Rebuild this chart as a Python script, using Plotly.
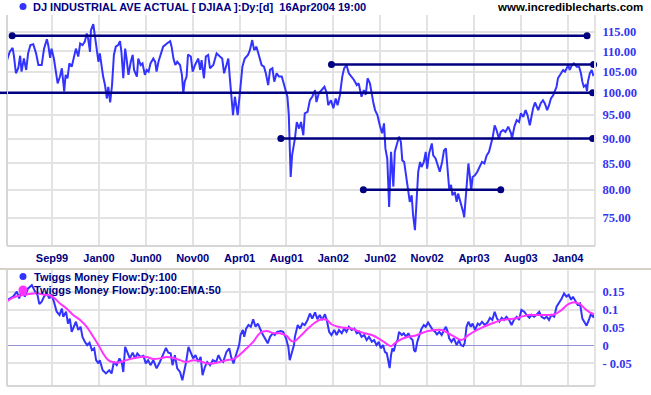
import math
import plotly.graph_objects as go

# ---------------- data ----------------
tick_days = [100, 200, 300, 400, 500, 600, 700, 800, 900, 1000, 1100, 1200]
tick_labels = ["Sep99", "Jan00", "Jun00", "Nov00", "Apr01", "Aug01",
               "Jan02", "Jun02", "Nov02", "Apr03", "Aug03", "Jan04"]
price_ticks = [75, 80, 85, 90, 95, 100, 105, 110, 115]
price_tick_labels = ["75.00", "80.00", "85.00", "90.00", "95.00",
                     "100.00", "105.00", "110.00", "115.00"]
tmf_ticks = [-0.05, 0, 0.05, 0.1, 0.15]
tmf_tick_labels = ["- 0.05", "0", "0.05", "0.1", "0.15"]

# trading-day index
price_day = [
    3, 5, 10, 16, 19, 23, 28, 32, 35, 40, 45, 49, 54, 60, 66, 71, 78, 83, 89, 92,
    96, 99, 104, 108, 112, 117, 121, 126, 129, 133, 137, 142, 147, 151, 156, 160, 165, 170, 174, 177,
    181, 183, 188, 192, 195, 199, 202, 206, 209, 213, 217, 220, 224, 228, 232, 236, 241, 245, 248, 252,
    256, 259, 263, 268, 272, 275, 281, 284, 289, 293, 298, 302, 306, 310, 316, 320, 323, 327, 332, 337,
    345, 352, 355, 359, 363, 367, 373, 377, 380, 383, 387, 390, 396, 400, 405,
    412, 416, 419, 424, 428, 433, 437, 444, 451, 458, 463, 467, 472, 476, 479, 483, 486, 490, 496, 501,
    506, 511, 518, 522, 527, 531, 536, 541, 547, 552, 556, 561, 565, 570, 574, 579, 584, 590, 593, 597,
    602, 605, 607, 609, 612, 615, 618, 622, 627, 631, 636, 639, 645, 650, 655, 661, 664, 669, 675, 681,
    686, 689, 695, 700, 705, 709, 714, 719, 723, 728, 733, 739, 744, 750, 754, 760, 765, 769, 773, 778,
    782, 785, 789, 794, 799, 804, 808, 811, 815, 817, 819, 823, 825, 828, 831,
    835, 840, 844, 847, 851, 856, 860, 863, 867, 870, 874, 876, 878, 881, 885, 888, 893, 897, 900, 904,
    910, 913, 918, 922, 927, 932, 936, 940, 944, 947, 951, 954, 959, 963, 966, 970, 973, 977, 979, 982,
    984, 988, 991, 994, 997, 1002, 1007, 1012, 1017, 1022, 1027, 1032, 1036, 1040, 1044, 1048, 1053, 1057, 1062, 1067,
    1073, 1079, 1081, 1086, 1091, 1096, 1100, 1105, 1110, 1114, 1119, 1123, 1126, 1130, 1133, 1137, 1142, 1147, 1151, 1156,
    1160, 1164, 1169, 1172, 1176, 1179, 1183, 1187, 1190, 1194, 1197, 1201, 1204, 1209, 1213, 1219, 1224, 1228, 1231, 1234,
    1238, 1241, 1243, 1247, 1251, 1254, 1256,
]
price_close = [
    107.0, 108.2, 109.9, 110.9, 108.7, 104.6, 105.8, 108.9, 105.0, 108.2, 105.4, 109.5, 111.6, 111.8, 109.5, 106.6, 106.6, 110.7, 113.1, 111.6,
    108.4, 110.7, 108.2, 105.4, 102.2, 103.8, 105.8, 100.3, 104.2, 103.4, 107.0, 106.2, 109.1, 110.7, 108.7, 112.0, 111.6, 112.5, 114.6, 113.3,
    109.9, 115.5, 117.1, 113.3, 109.9, 107.4, 109.5, 105.8, 103.8, 101.8, 98.7, 101.4, 97.8, 101.8, 109.1, 111.2, 111.6, 112.6, 109.9, 103.4,
    110.7, 108.2, 104.2, 107.4, 109.1, 105.4, 103.8, 108.2, 106.6, 107.0, 104.2, 105.4, 105.0, 107.0, 108.2, 107.4, 105.0, 107.4, 109.5, 111.2,
    112.0, 112.6, 111.2, 108.2, 106.6, 107.4, 106.6, 104.2, 99.9, 102.6, 103.8, 109.2, 108.7, 105.0, 106.6,
    108.2, 105.4, 107.8, 103.4, 108.7, 109.1, 105.8, 106.6, 109.5, 108.7, 108.2, 104.6, 106.6, 108.2, 103.8, 99.1, 95.0, 99.1, 95.0, 100.3,
    106.2, 108.2, 109.1, 110.3, 112.9, 110.3, 111.2, 109.1, 106.6, 106.2, 104.6, 101.8, 105.4, 105.8, 102.6, 104.6, 103.8, 103.8, 102.6, 101.4,
    99.1, 95.0, 89.3, 82.4, 86.6, 88.0, 90.0, 93.5, 92.1, 93.5, 90.7, 95.4, 95.7, 98.3, 99.1, 100.6, 97.9, 99.9, 100.6, 101.4,
    99.9, 97.2, 98.3, 96.5, 98.7, 97.2, 99.5, 103.8, 105.8, 106.6, 104.6, 103.8, 103.0, 101.8, 102.2, 99.1, 100.6, 99.5, 103.4, 102.2,
    99.5, 97.9, 96.1, 95.0, 92.8, 91.1, 93.2, 88.0, 85.9, 79.9, 76.9, 87.3, 83.4, 80.6, 87.3,
    88.7, 90.4, 89.3, 85.6, 85.3, 82.1, 79.6, 77.8, 79.0, 75.5, 72.9, 76.0, 78.4, 83.4, 85.3, 84.3, 85.3, 87.3, 84.0, 86.9,
    89.0, 86.6, 86.0, 85.0, 83.4, 85.3, 87.6, 88.0, 83.4, 80.2, 80.9, 79.0, 79.6, 77.8, 79.3, 78.1, 77.5, 76.0, 75.1, 78.4,
    82.1, 85.0, 82.7, 79.9, 82.4, 82.7, 83.4, 84.3, 85.3, 85.0, 86.6, 87.3, 88.7, 90.4, 92.8, 91.8, 90.0, 91.4, 91.8, 91.4,
    92.5, 91.1, 90.0, 92.5, 93.9, 93.5, 95.4, 94.6, 96.1, 95.0, 92.8, 95.4, 96.5, 97.8, 97.2, 96.1, 97.6, 98.3, 97.6, 96.1,
    97.2, 98.7, 99.5, 100.3, 101.4, 103.4, 104.2, 105.0, 105.4, 105.0, 105.8, 106.6, 105.4, 106.6, 107.0, 106.2, 106.2, 104.6, 102.6, 101.4,
    101.8, 100.4, 102.6, 104.6, 105.4, 104.2, 104.4,
]

tmf_points = [
    (5, 0.127), (17, 0.136), (25, 0.150), (30, 0.131), (35, 0.154), (42, 0.136), (49, 0.159), (57, 0.168),
    (64, 0.150), (69, 0.141), (73, 0.115), (78, 0.122), (83, 0.136), (89, 0.145), (94, 0.131), (99, 0.142),
    (104, 0.122), (110, 0.094), (116, 0.085), (121, 0.103), (124, 0.080), (130, 0.094), (134, 0.061), (138, 0.075),
    (142, 0.038), (147, 0.057), (151, 0.066), (156, 0.043), (161, 0.052), (165, 0.024), (170, 0.010), (175, 0.001),
    (180, 0.008), (185, -0.013), (190, -0.008), (194, -0.041), (199, -0.050), (202, -0.041), (208, -0.069), (215, -0.078),
    (222, -0.069), (227, -0.078), (232, -0.046), (238, -0.055), (244, -0.036), (249, -0.050), (252, -0.074), (256, -0.004),
    (261, -0.022), (266, -0.036), (272, -0.020), (277, -0.036), (282, -0.022), (288, -0.032), (295, -0.029), (300, -0.050),
    (305, -0.041), (310, -0.055), (316, -0.041), (323, -0.064), (330, -0.046), (337, -0.027), (343, -0.007), (348, -0.020),
    (353, -0.022), (357, -0.055), (362, -0.027), (367, -0.064), (373, -0.074), (378, -0.097), (382, -0.074), (386, -0.046),
    (391, -0.004), (396, -0.018), (401, -0.036), (406, -0.027), (412, -0.046), (417, -0.032), (421, -0.083), (426, -0.060),
    (431, -0.046), (437, -0.055), (443, -0.041), (450, -0.046), (455, -0.027), (460, -0.041), (465, -0.046), (472, -0.018),
    (478, -0.008), (482, -0.032), (487, -0.050), (491, -0.032), (495, -0.013), (499, 0.001), (502, 0.029), (507, 0.043),
    (510, 0.024), (514, 0.047), (519, 0.057), (524, 0.052), (529, 0.073), (534, 0.052), (539, 0.061), (544, 0.043),
    (548, 0.034), (554, 0.020), (560, 0.006), (565, 0.024), (571, 0.034), (575, 0.029), (580, 0.038), (588, 0.040),
    (593, 0.038), (599, 0.020), (604, -0.004), (607, -0.041), (611, -0.022), (616, 0.001),
    (618, 0.024), (624, 0.057), (629, 0.047), (634, 0.061), (639, 0.057), (645, 0.071), (650, 0.089), (655, 0.075),
    (661, 0.092), (666, 0.073), (671, 0.085), (676, 0.071), (682, 0.087), (686, 0.071), (691, 0.038), (696, 0.029),
    (702, 0.043), (707, 0.029), (712, 0.043), (718, 0.034), (723, 0.047), (728, 0.038), (733, 0.052), (739, 0.043),
    (745, 0.047), (750, 0.034), (755, 0.038), (760, 0.024), (766, 0.029), (771, 0.015), (776, 0.024), (782, 0.010),
    (787, 0.015), (792, 0.001), (797, 0.010), (801, -0.008), (806, 0.001), (810, -0.018), (814, -0.022), (817, -0.046),
    (820, -0.063), (823, -0.027), (826, -0.008), (829, -0.016), (833, 0.006), (837, 0.015), (840, 0.038), (846, 0.029),
    (850, 0.034), (855, 0.024), (860, 0.034), (865, 0.020), (869, 0.015), (872, -0.013), (875, -0.018), (879, 0.010),
    (883, 0.024), (888, 0.047), (893, 0.057), (897, 0.052), (902, 0.064), (907, 0.052), (912, 0.043), (917, 0.038),
    (921, 0.031), (926, 0.038), (931, 0.029), (936, 0.043), (940, 0.052), (944, 0.038), (947, 0.020), (952, 0.010),
    (957, 0.020), (963, 0.001), (968, 0.015), (972, 0.001), (977, -0.002), (980, 0.006), (984, 0.052), (988, 0.066),
    (993, 0.052), (997, 0.061), (1002, 0.043), (1008, 0.061), (1012, 0.057), (1017, 0.066), (1023, 0.057), (1029, 0.064),
    (1034, 0.077), (1039, 0.071), (1044, 0.094), (1049, 0.075), (1054, 0.066), (1059, 0.077), (1064, 0.071), (1069, 0.080),
    (1075, 0.071), (1080, 0.057), (1085, 0.071), (1091, 0.080), (1096, 0.071), (1101, 0.099), (1107, 0.094), (1112, 0.085),
    (1118, 0.077), (1123, 0.085), (1128, 0.080), (1133, 0.085), (1139, 0.094), (1144, 0.080), (1150, 0.075), (1155, 0.080),
    (1160, 0.071), (1165, 0.085), (1171, 0.080), (1176, 0.108), (1181, 0.117), (1187, 0.131), (1192, 0.145), (1197, 0.136),
    (1202, 0.141), (1207, 0.127), (1211, 0.136), (1217, 0.120), (1221, 0.113), (1226, 0.117), (1231, 0.075), (1235, 0.066),
    (1240, 0.055), (1245, 0.071), (1249, 0.087), (1254, 0.080), (1256, 0.085),
]

ema_points = [
    (3, 0.122), (17, 0.133), (32, 0.139), (46, 0.142), (60, 0.145), (71, 0.145), (81, 0.142), (96, 0.139),
    (106, 0.131), (117, 0.117), (131, 0.103), (145, 0.085), (160, 0.071), (174, 0.052), (188, 0.024), (199, 0.001),
    (209, -0.022), (220, -0.041), (231, -0.047), (245, -0.047), (259, -0.041), (273, -0.036), (288, -0.032), (302, -0.032),
    (316, -0.038), (330, -0.036), (345, -0.032), (359, -0.035), (373, -0.041), (387, -0.046), (401, -0.041), (416, -0.044),
    (430, -0.050), (444, -0.050), (458, -0.046), (472, -0.041), (487, -0.038), (501, -0.025), (515, -0.008), (529, 0.010),
    (543, 0.034), (558, 0.040), (572, 0.034), (586, 0.034), (600, 0.027), (611, 0.012), (618, 0.012), (632, 0.029),
    (646, 0.047), (661, 0.064), (675, 0.073), (686, 0.071), (696, 0.059), (710, 0.052), (725, 0.049), (739, 0.047),
    (753, 0.040), (767, 0.034), (782, 0.029), (796, 0.020), (810, 0.008), (823, -0.002), (831, 0.006), (846, 0.018),
    (860, 0.024), (874, 0.027), (888, 0.034), (902, 0.040), (917, 0.043), (931, 0.043), (945, 0.034), (959, 0.024),
    (973, 0.015), (988, 0.029), (1002, 0.040), (1016, 0.049), (1030, 0.057), (1044, 0.064), (1059, 0.071), (1073, 0.073),
    (1087, 0.075), (1101, 0.080), (1116, 0.085), (1130, 0.085), (1144, 0.085), (1158, 0.085), (1172, 0.087), (1187, 0.099),
    (1201, 0.115), (1215, 0.120), (1226, 0.115), (1236, 0.103), (1247, 0.092), (1256, 0.087),
]

trend_levels = [114.0, 106.7, 100.0, 90.0, 80.0]
trend_start = [15, 696, -11, 588, 764]
trend_end = [1241, 1255, 1253, 1253, 1057]
trend_start_dot = [True, True, False, True, True]

title_text = "DJ INDUSTRIAL AVE ACTUAL [ DJIAA ]:Dy:[d]\u00a0\u00a016Apr2004 19:00"
site_text = "www.incrediblecharts.com"
legend_tmf = "Twiggs Money Flow:Dy:100"
legend_ema = "Twiggs Money Flow:Dy:100:EMA:50"

# ---------------- layout constants (pixels) ----------------
W, H = 651, 395
PL, PR = 7, 595
UP_T, UP_B = 15, 246
LO_T, LO_B = 269, 386
X_RANGE = [4, 1258]
P_RANGE = [math.log10(70.3), math.log10(119.6)]
T_RANGE = [-0.113, 0.213]

NAVY = "#000080"
BLUE = "#3333ff"
MAGENTA = "#ff33ff"
GRID = "#e3e3e3"
TICKBLUE = "#3535f0"


def fx(p):
    return p / W


def fy(p):
    return 1 - p / H


fig = go.Figure()

fig.add_trace(go.Scatter(x=price_day, y=price_close, mode="lines",
                         line=dict(color=BLUE, width=2), xaxis="x", yaxis="y",
                         hoverinfo="skip"))

for lvl, s, e, sd in zip(trend_levels, trend_start, trend_end, trend_start_dot):
    fig.add_trace(go.Scatter(x=[s, e], y=[lvl, lvl], mode="lines",
                             line=dict(color=NAVY, width=2.5), xaxis="x", yaxis="y",
                             hoverinfo="skip"))
    dots_x = [s, e] if sd else [e]
    fig.add_trace(go.Scatter(x=dots_x, y=[lvl] * len(dots_x), mode="markers",
                             marker=dict(color=NAVY, size=7), xaxis="x", yaxis="y",
                             cliponaxis=False, hoverinfo="skip"))

fig.add_trace(go.Scatter(x=[p[0] for p in tmf_points], y=[p[1] for p in tmf_points],
                         mode="lines", line=dict(color=BLUE, width=2),
                         xaxis="x2", yaxis="y2", hoverinfo="skip"))
fig.add_trace(go.Scatter(x=[p[0] for p in ema_points], y=[p[1] for p in ema_points],
                         mode="lines", line=dict(color=MAGENTA, width=2, shape="spline"),
                         xaxis="x2", yaxis="y2", hoverinfo="skip"))

sans = "Liberation Sans, Arial, sans-serif"
serif = "Liberation Serif"

fig.update_layout(
    width=W, height=H, autosize=False,
    margin=dict(l=0, r=0, t=0, b=0),
    paper_bgcolor="white", plot_bgcolor="white",
    showlegend=False,
    xaxis=dict(domain=[fx(PL), fx(PR)], range=X_RANGE, anchor="y",
               tickmode="array", tickvals=tick_days, ticktext=tick_labels,
               tickfont=dict(family=sans, size=11, color=NAVY, weight="bold"),
               showgrid=True, gridcolor=GRID, gridwidth=2, zeroline=False,
               showline=False, ticks="outside", ticklen=2, tickcolor="rgba(0,0,0,0)"),
    yaxis=dict(domain=[fy(UP_B), fy(UP_T)], type="log", range=P_RANGE, anchor="x",
               side="right", tickmode="array", tickvals=price_ticks, ticktext=price_tick_labels,
               tickfont=dict(family=serif, size=12.5, color=TICKBLUE, weight="bold"),
               showgrid=True, gridcolor=GRID, gridwidth=2, zeroline=False,
               showline=False, ticks="outside", ticklen=4, tickcolor="rgba(0,0,0,0)"),
    xaxis2=dict(domain=[fx(PL), fx(PR)], range=X_RANGE, anchor="y2",
                tickmode="array", tickvals=tick_days, showticklabels=False,
                showgrid=True, gridcolor=GRID, gridwidth=2, zeroline=False, showline=False),
    yaxis2=dict(domain=[fy(LO_B), fy(LO_T)], range=T_RANGE, anchor="x2",
                side="right", tickmode="array", tickvals=tmf_ticks, ticktext=tmf_tick_labels,
                tickfont=dict(family=serif, size=12.5, color=TICKBLUE, weight="bold"),
                showgrid=True, gridcolor=GRID, gridwidth=2,
                zeroline=True, zerolinecolor="#9494d4", zerolinewidth=1,
                showline=False, ticks="outside", ticklen=4, tickcolor="rgba(0,0,0,0)"),
)

shapes = []
frame = "#d6d6d6"
for top, bot in [(UP_T, UP_B), (LO_T, LO_B)]:
    shapes.append(dict(type="line", xref="paper", yref="paper", x0=fx(PL), x1=fx(PL),
                       y0=fy(top), y1=fy(bot), line=dict(color=frame, width=2)))
    shapes.append(dict(type="line", xref="paper", yref="paper", x0=fx(PR), x1=fx(PR),
                       y0=fy(top), y1=fy(bot), line=dict(color=GRID, width=2)))
    shapes.append(dict(type="line", xref="paper", yref="paper", x0=fx(PL), x1=fx(PR),
                       y0=fy(bot), y1=fy(bot), line=dict(color=frame, width=2)))
# separator between panels
shapes.append(dict(type="line", xref="paper", yref="paper", x0=0, x1=1,
                   y0=fy(LO_T), y1=fy(LO_T), line=dict(color="#d4d0c8", width=2)))
# stub of the 100 line left of the plot area
frac100 = (math.log10(trend_levels[2]) - P_RANGE[0]) / (P_RANGE[1] - P_RANGE[0])
shapes.append(dict(type="line", xref="paper", yref="y domain", x0=0, x1=fx(PL),
                   y0=frac100, y1=frac100, line=dict(color=NAVY, width=2.5)))


def dot(cx, cy, r, color):
    return dict(type="circle", xref="paper", yref="paper",
                x0=fx(cx - r), x1=fx(cx + r), y0=fy(cy + r), y1=fy(cy - r),
                fillcolor=color, line=dict(width=0))


shapes.append(dot(23, 6.5, 3.5, BLUE))
shapes.append(dot(23, 276.5, 3.5, BLUE))
shapes.append(dot(23, 290, 4.5, MAGENTA))
fig.update_layout(shapes=shapes)

ann = [
    dict(text=title_text, x=fx(31), y=fy(7), xanchor="left", yanchor="middle",
         font=dict(family=sans, size=11, color=NAVY, weight="bold")),
    dict(text=site_text, x=fx(645), y=fy(7.5), xanchor="right", yanchor="middle",
         font=dict(family=sans, size=11.5, color="black", weight="bold")),
    dict(text=legend_tmf, x=fx(32), y=fy(276.5), xanchor="left", yanchor="middle",
         font=dict(family=sans, size=11, color=NAVY, weight="bold")),
    dict(text=legend_ema, x=fx(32), y=fy(290), xanchor="left", yanchor="middle",
         font=dict(family=sans, size=11, color=NAVY, weight="bold")),
]
for a in ann:
    a.update(xref="paper", yref="paper", showarrow=False)
fig.update_layout(annotations=ann)

assert len(price_day) == len(price_close)
fig.write_html("out.html", config={"displayModeBar": False},
               post_script="document.body.style.margin='0px';document.body.style.overflow='hidden';")
